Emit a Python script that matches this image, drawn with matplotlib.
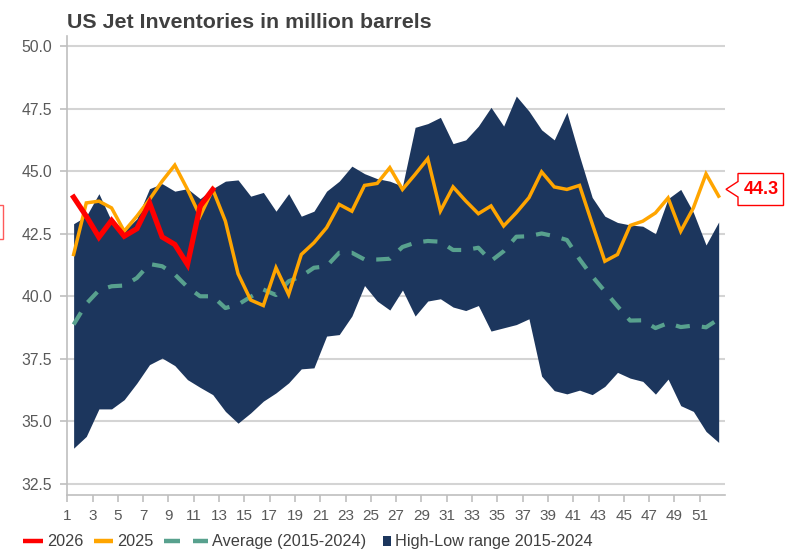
import numpy as np
import matplotlib
matplotlib.use("Agg")
import matplotlib.pyplot as plt
from matplotlib.lines import Line2D
from matplotlib.patches import Polygon, Rectangle

plt.rcParams['font.family'] = ['Liberation Sans', 'DejaVu Sans']

weeks = list(range(1, 53))
high = [42.9, 43.2, 44.1, 43.0, 42.6, 43.1, 44.3, 44.5, 44.2, 44.3,
        43.9, 44.3, 44.6, 44.65, 44.0, 44.15, 43.4, 44.1, 43.2, 43.4,
        44.2, 44.6, 45.2, 44.9, 44.7, 44.6, 44.4, 46.75, 46.9, 47.15,
        46.1, 46.25, 46.8, 47.55, 46.8, 48.0, 47.4, 46.65, 46.25, 47.35,
        45.6, 43.95, 43.2, 42.95, 42.85, 42.8, 42.5, 43.9, 44.27, 43.35,
        42.05, 42.97]
low = [33.93, 34.4, 35.5, 35.5, 35.87, 36.53, 37.27, 37.53, 37.23, 36.67,
       36.36, 36.07, 35.4, 34.93, 35.34, 35.81, 36.14, 36.54, 37.1, 37.14,
       38.41, 38.47, 39.21, 40.43, 39.81, 39.45, 40.25, 39.21, 39.81, 39.9,
       39.57, 39.43, 39.63, 38.61, 38.74, 38.87, 39.1, 36.81, 36.23, 36.1,
       36.25, 36.07, 36.4, 36.96, 36.73, 36.6, 36.09, 36.69, 35.63, 35.4,
       34.6, 34.16]
avg = [38.87, 39.7, 40.24, 40.4, 40.43, 40.73, 41.29, 41.2, 40.87, 40.37,
       40.0, 40.0, 39.53, 39.67, 39.98, 40.27, 40.05, 40.6, 40.8, 41.14,
       41.2, 41.74, 41.74, 41.47, 41.47, 41.5, 41.97, 42.14, 42.21, 42.18,
       41.85, 41.85, 41.94, 41.41, 41.8, 42.38, 42.4, 42.51, 42.4, 42.25,
       41.48, 40.8, 40.2, 39.6, 39.03, 39.04, 38.73, 38.93, 38.77, 38.83,
       38.76, 39.09]
y2025 = [41.67, 43.73, 43.8, 43.53, 42.6, 43.2, 43.87, 44.6, 45.24, 44.27,
         43.2, 44.27, 43.0, 40.9, 39.85, 39.63, 41.14, 40.07, 41.67, 42.14,
         42.74, 43.67, 43.4, 44.43, 44.51, 45.14, 44.27, 44.87, 45.5, 43.41,
         44.37, 43.81, 43.3, 43.61, 42.81, 43.34, 43.94, 44.97, 44.37, 44.27,
         44.43, 42.9, 41.4, 41.67, 42.83, 43.0, 43.33, 43.93, 42.6, 43.53,
         44.89, 44.0]
y2026 = [43.96, 43.2, 42.36, 43.03, 42.4, 42.7, 43.73, 42.37, 42.07, 41.27,
         43.6, 44.27]
yticks = [32.5, 35.0, 37.5, 40.0, 42.5, 45.0, 47.5, 50.0]
xtick_labels = [str(w) for w in weeks[::2]]
callout_text = "44.3"
legend_labels = ["2026", "2025", "Average (2015-2024)", "High-Low range 2015-2024"]

NAVY = '#1C365D'
ORANGE = '#FFA500'
RED = '#FF0000'
TEAL = '#58A18E'
GRID = '#d4d4d4'
AXC = '#bfbfbf'
TXT = '#595959'

W, H = 797, 551
fig = plt.figure(figsize=(W / 100, H / 100), dpi=100)
ax = fig.add_axes([67.3 / W, 1 - 495 / H, (725 - 67.3) / W, (495 - 36) / H])

ax.fill_between(weeks, low, high, color=NAVY, lw=0, zorder=2)
ax.plot(weeks, avg, color=TEAL, lw=3.0, dashes=(3.4, 2.9), dash_capstyle='butt', zorder=3)
ax.plot(weeks, y2025, color=ORANGE, lw=2.5, zorder=4, solid_joinstyle='miter')
ax.plot(weeks[:len(y2026)], y2026, color=RED, lw=3.8, zorder=5, solid_joinstyle='miter')

ax.set_xlim(0.5, 52.5)
ax.set_ylim(32.06, 50.4)
ax.set_yticks(yticks)
ax.set_yticklabels([f"{v:.1f}" for v in yticks])
ax.set_xticks(np.arange(0.5, 51, 2))
ax.set_xticklabels(xtick_labels)
ax.yaxis.grid(True, color=GRID, lw=1.5)
ax.set_axisbelow(True)
for s in ['top', 'right']:
    ax.spines[s].set_visible(False)
for s in ['left', 'bottom']:
    ax.spines[s].set_color(AXC)
    ax.spines[s].set_linewidth(1.2)
ax.tick_params(axis='y', direction='out', length=5, width=1.2, color=AXC,
               labelsize=11.3, labelcolor=TXT, pad=6)
ax.tick_params(axis='x', direction='out', length=5, width=1.2, color=AXC,
               labelsize=11, labelcolor=TXT, pad=5)

fig.text(67 / W, 1 - 28.3 / H, "US Jet Inventories in million barrels",
         fontsize=15.4, fontweight='bold', color='#404040', va='baseline', ha='left')

# callout on the right
pts = [(738, 173.5), (783.5, 173.5), (783.5, 205.5), (738, 205.5), (738, 197),
       (726, 189.3), (738, 181.5)]
poly = Polygon([(x / W, 1 - y / H) for x, y in pts], closed=True, facecolor='white',
               edgecolor=RED, lw=1.0, transform=fig.transFigure)
fig.add_artist(poly)
fig.text(761 / W, 1 - 189.5 / H, callout_text, color=RED, fontsize=13,
         fontweight='bold', ha='center', va='center')
# partially visible callout on the left
pts2 = [(-30, 205), (2.5, 205), (2.5, 238.5), (-30, 238.5)]
poly2 = Polygon([(x / W, 1 - y / H) for x, y in pts2], closed=True, facecolor='white',
                edgecolor='#ff5a5a', lw=1.0, transform=fig.transFigure)
fig.add_artist(poly2)

# legend (drawn manually to match handle sizes)
def fx(x):
    return x / W

def fy(y):
    return 1 - y / H

ly = 541.0
base = 546.3
fig.add_artist(Line2D([fx(22.7), fx(42.7)], [fy(ly), fy(ly)], color=RED, lw=3.2,
                      solid_capstyle='butt', transform=fig.transFigure))
fig.add_artist(Line2D([fx(94.3), fx(113.3)], [fy(ly), fy(ly)], color=ORANGE, lw=3.2,
                      solid_capstyle='butt', transform=fig.transFigure))
fig.add_artist(Line2D([fx(164.3), fx(180)], [fy(ly), fy(ly)], color=TEAL, lw=3.2,
                      solid_capstyle='butt', transform=fig.transFigure))
fig.add_artist(Line2D([fx(193.3), fx(208.3)], [fy(ly), fy(ly)], color=TEAL, lw=3.2,
                      solid_capstyle='butt', transform=fig.transFigure))
fig.add_artist(Rectangle((fx(382.7), fy(545.5)), fx(390.5) - fx(382.7), fy(535.5) - fy(545.5),
                         facecolor=NAVY, edgecolor='none', transform=fig.transFigure))
for x, lab in zip([46.7, 116.7, 211.7, 395.0], legend_labels):
    fig.text(fx(x), fy(base), lab, fontsize=11.7, color='#404040',
             ha='left', va='baseline')

fig.savefig("out.png", dpi=100)
